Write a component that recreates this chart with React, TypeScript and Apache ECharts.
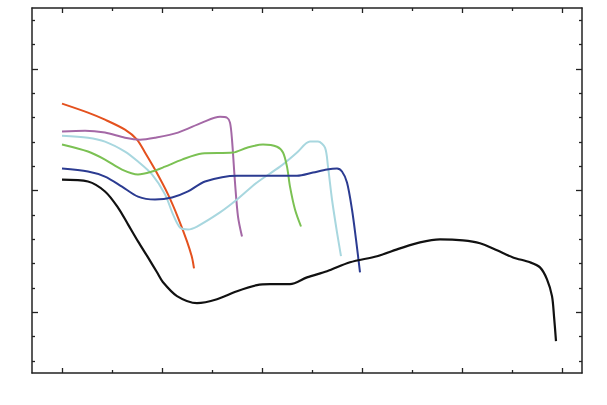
import React, { useEffect, useRef } from "react";
import * as echarts from "echarts";

const orange: [number, number][] = [
  [0, 8.57], [0.52, 8.2], [0.86, 7.91], [1.26, 7.5], [1.5, 7.09], [1.66, 6.56], [1.86, 5.86],
  [2.12, 4.84], [2.32, 3.89], [2.5, 2.91], [2.6, 2.25], [2.64, 1.8],
];
const purple: [number, number][] = [
  [0, 7.42], [0.46, 7.46], [0.86, 7.38], [1.26, 7.17], [1.56, 7.09], [1.86, 7.17], [2.32, 7.38],
  [2.8, 7.79], [3.16, 8.03], [3.3, 7.99], [3.36, 7.79], [3.4, 7.09], [3.46, 5.33], [3.52, 3.93], [3.6, 3.11],
];
const lightBlue: [number, number][] = [
  [0, 7.25], [0.52, 7.17], [0.86, 7.01], [1.26, 6.6], [1.52, 6.19], [1.8, 5.66], [2.06, 4.84],
  [2.22, 4.02], [2.36, 3.48], [2.52, 3.4], [2.7, 3.52], [3.16, 4.1], [3.5, 4.63], [3.9, 5.33],
  [4.36, 5.98], [4.7, 6.56], [4.96, 7.01], [5.12, 7.01], [5.26, 6.76], [5.32, 5.98], [5.4, 4.63],
  [5.5, 3.28], [5.58, 2.3],
];
const green: [number, number][] = [
  [0, 6.89], [0.52, 6.6], [0.86, 6.27], [1.2, 5.86], [1.52, 5.66], [1.8, 5.78], [2.06, 5.98],
  [2.4, 6.27], [2.8, 6.52], [3.42, 6.56], [3.7, 6.76], [4.02, 6.89], [4.3, 6.8], [4.42, 6.56],
  [4.5, 5.98], [4.56, 5.16], [4.66, 4.22], [4.78, 3.52],
];
const darkBlue: [number, number][] = [
  [0, 5.9], [0.52, 5.78], [0.86, 5.57], [1.2, 5.16], [1.52, 4.75], [1.86, 4.63], [2.2, 4.71],
  [2.52, 4.96], [2.86, 5.37], [3.5, 5.61], [4.02, 5.61], [4.7, 5.61], [5.02, 5.74], [5.3, 5.86],
  [5.5, 5.9], [5.6, 5.78], [5.7, 5.33], [5.8, 4.22], [5.88, 2.99], [5.96, 1.64],
];
const black: [number, number][] = [
  [0, 5.45], [0.52, 5.37], [0.86, 4.96], [1.12, 4.3], [1.32, 3.61], [1.52, 2.91], [1.72, 2.25],
  [1.9, 1.64], [2.02, 1.23], [2.3, 0.66], [2.7, 0.37], [3.1, 0.53], [3.5, 0.86], [3.9, 1.11],
  [4.16, 1.15], [4.56, 1.15], [4.9, 1.43], [5.3, 1.68], [5.76, 2.05], [6.3, 2.3], [6.76, 2.62],
  [7.16, 2.87], [7.56, 2.99], [8.02, 2.95], [8.36, 2.83], [8.7, 2.54], [9.02, 2.25], [9.36, 2.05],
  [9.56, 1.84], [9.7, 1.35], [9.8, 0.66], [9.84, -0.16], [9.88, -1.19],
];

const xMajorTicks = [0, 2, 4, 6, 8, 10];
const xMinorTicks = [1, 3, 5, 7, 9];
const yMajorTicks = [0, 5, 10];
const yMinorTicks = [-2, -1, 1, 2, 3, 4, 6, 7, 8, 9, 11, 12];

const X_MIN = -0.6;
const X_MAX = 10.4;
const Y_MIN = -2.5;
const Y_MAX = 12.5;

const seriesDefs = [
  { name: "orange", data: orange, color: "#e4511e", width: 2 },
  { name: "purple", data: purple, color: "#a468a6", width: 2 },
  { name: "lightBlue", data: lightBlue, color: "#a8d7df", width: 2 },
  { name: "green", data: green, color: "#7bc153", width: 2 },
  { name: "darkBlue", data: darkBlue, color: "#2b3b91", width: 2 },
  { name: "black", data: black, color: "#111111", width: 2.2 },
];

export default function App() {
  const ref = useRef<HTMLDivElement>(null);
  useEffect(() => {
    if (!ref.current) return;
    const chart = echarts.init(ref.current, undefined, { renderer: "svg" });
    const lineStyle = { color: "#222", width: 1.5 };
    const xAxis = (position: string, ticks: number[], len: number, showLine: boolean) => ({
      type: "value",
      position,
      min: X_MIN,
      max: X_MAX,
      axisLine: { show: showLine, onZero: false, lineStyle },
      axisTick: { show: true, inside: true, length: len, customValues: ticks, lineStyle: { color: "#222", width: 1.3 } },
      axisLabel: { show: false },
      splitLine: { show: false },
    });
    const yAxis = (position: string, ticks: number[], len: number, showLine: boolean) => ({
      type: "value",
      position,
      min: Y_MIN,
      max: Y_MAX,
      axisLine: { show: showLine, onZero: false, lineStyle },
      axisTick: { show: true, inside: true, length: len, customValues: ticks, lineStyle: { color: "#222", width: 1.3 } },
      axisLabel: { show: false },
      splitLine: { show: false },
    });
    chart.setOption({
      animation: false,
      backgroundColor: "#ffffff",
      grid: { left: 32, top: 8, width: 550, height: 365, containLabel: false },
      xAxis: [
        xAxis("bottom", xMajorTicks, 5, true),
        xAxis("bottom", xMinorTicks, 3, false),
        xAxis("top", xMajorTicks, 5, true),
        xAxis("top", xMinorTicks, 3, false),
      ],
      yAxis: [
        yAxis("left", yMajorTicks, 6, true),
        yAxis("left", yMinorTicks, 3, false),
        yAxis("right", yMajorTicks, 6, true),
        yAxis("right", yMinorTicks, 3, false),
      ],
      series: seriesDefs.map((s) => ({
        name: s.name,
        type: "line",
        data: s.data,
        xAxisIndex: 0,
        yAxisIndex: 0,
        smooth: 0.3,
        showSymbol: false,
        symbol: "none",
        lineStyle: { color: s.color, width: s.width },
        itemStyle: { color: s.color },
      })),
    });
    return () => chart.dispose();
  }, []);
  return (
    <div
      ref={ref}
      style={{ position: "absolute", left: 0, top: 0, width: 607, height: 405 }}
    />
  );
}
